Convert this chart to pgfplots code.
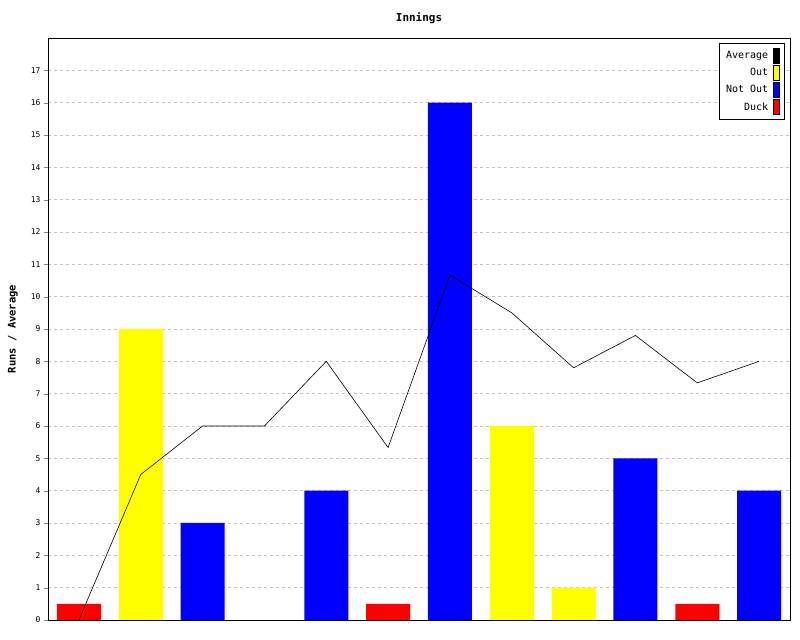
\documentclass[border=0pt]{standalone}
\usepackage{pgfplots}
\pgfplotsset{compat=1.18}
\usepackage{fontspec}
\setmainfont{DejaVu Sans Mono}
\definecolor{gridgray}{RGB}{195,195,195}
\definecolor{cyel}{RGB}{255,255,0}
\definecolor{cblue}{RGB}{0,0,255}
\definecolor{cred}{RGB}{255,0,0}
\begin{document}
\begin{tikzpicture}[x=1bp,y=1bp]
\path[use as bounding box] (0,0) rectangle (800,640);
\begin{axis}[
  at={(48bp,20bp)}, anchor=south west,
  scale only axis, width=742bp, height=582bp,
  xmin=-0.5, xmax=11.5, ymin=0, ymax=18,
  xtick=\empty,
  ytick={0,1,...,17},
  ytick pos=left,
  /pgf/number format/assume math mode=true,
  yticklabel style={font=\fontsize{8}{9}\selectfont},
  tick align=outside, major tick length=4bp,
  axis line style={black, line width=0.8pt},
  ymajorgrids,
  major grid style={gridgray, dash pattern=on 3bp off 3bp, line width=0.6pt},
  title={\bfseries Innings},
  title style={at={(axis description cs:0.5,1)}, anchor=base, yshift=11bp, font=\fontsize{11}{12}\selectfont},
  ylabel={\bfseries Runs / Average},
  ylabel style={at={(axis description cs:0,0.5)}, anchor=center, yshift=35bp, font=\fontsize{10.5}{12}\selectfont},
  legend plot pos=right,
  legend cell align=right,
  legend style={at={(axis description cs:1,1)}, anchor=north east, xshift=-5bp, yshift=-5bp,
    draw=black, line width=0.6pt, font=\fontsize{10}{12}\selectfont, row sep=1.5bp, column sep=3bp, inner sep=5bp,
    nodes={inner sep=2bp}},
  legend image code/.code={\draw[#1, draw=black, line width=0.5pt] (0bp,-7.5bp) rectangle (6bp,7.5bp);},
]
\addlegendimage{fill=black}
\addlegendentry{Average}
\addlegendimage{fill=cyel}
\addlegendentry{Out}
\addlegendimage{fill=cblue}
\addlegendentry{Not Out}
\addlegendimage{fill=cred}
\addlegendentry{Duck}

\addplot[ybar, bar width=44bp, bar shift=0pt, fill=cred, draw=none, forget plot]
  coordinates {(0,0.5) (5,0.5) (10,0.5)};
\addplot[ybar, bar width=44bp, bar shift=0pt, fill=cyel, draw=none, forget plot]
  coordinates {(1,9) (7,6) (8,1)};
\addplot[ybar, bar width=44bp, bar shift=0pt, fill=cblue, draw=none, forget plot]
  coordinates {(2,3) (4,4) (6,16) (9,5) (11,4)};
\addplot[black, line width=0.6pt, mark=none, forget plot]
  coordinates {(0,0) (1,4.5) (2,6) (3,6) (4,8) (5,5.333) (6,10.667) (7,9.5) (8,7.8) (9,8.8) (10,7.333) (11,8)};
\end{axis}
\end{tikzpicture}
\end{document}
